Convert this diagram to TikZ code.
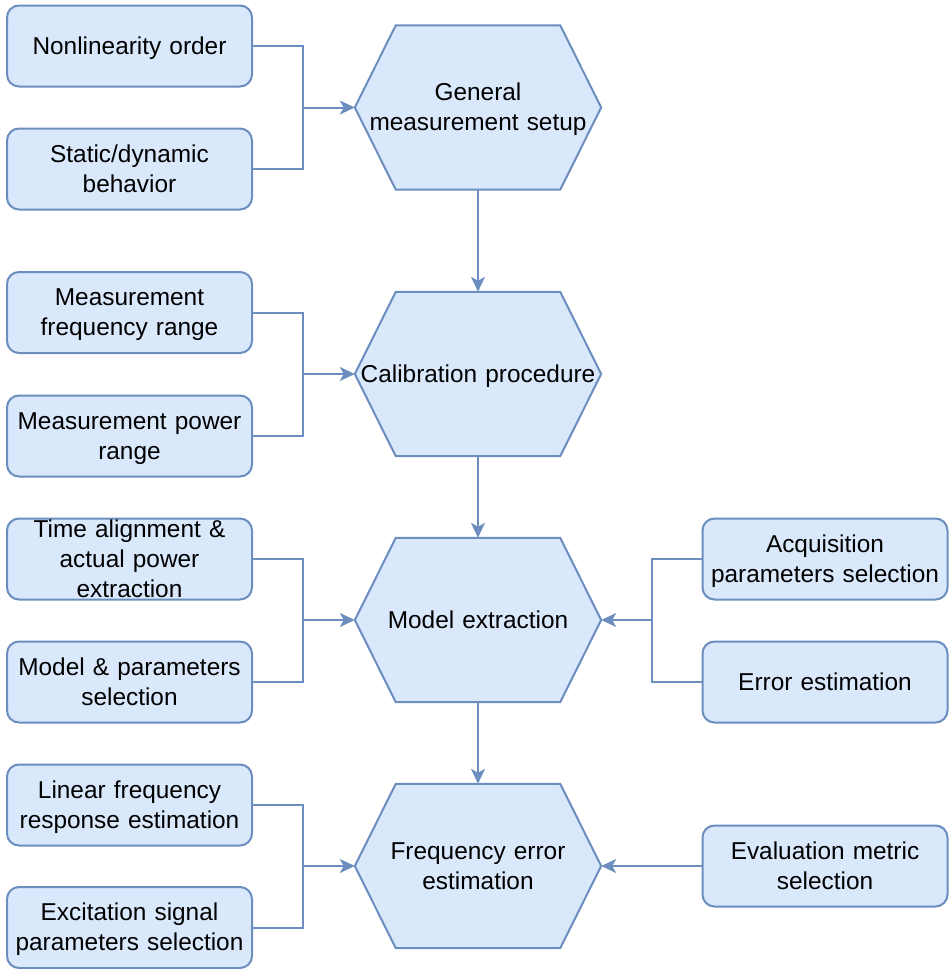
\documentclass[tikz,border=0pt]{standalone}
\usepackage{fontspec}
\setmainfont{Liberation Sans}
\usetikzlibrary{arrows.meta,backgrounds}
\definecolor{boxfill}{HTML}{DAE8FC}
\definecolor{boxline}{HTML}{6C8EBF}
% line-box struts so every label is centred on its full line height
\newcommand\lineboxtop{\rule{0pt}{0.9465em}}
\newcommand\lineboxbot{\rule[-0.2535em]{0pt}{0pt}}
\begin{document}
\begin{tikzpicture}[x=1pt,y=-1pt,
  every node/.style={font=\fontsize{24.4}{30}\selectfont, text=black},
  boxtext/.style={execute at begin node=\lineboxtop, execute at end node=\lineboxbot},
  factor/.style={boxtext, draw=boxline, fill=boxfill, line width=2pt, rounded corners=12pt,
    minimum width=245pt, minimum height=81pt, inner sep=0pt, text width=240pt, align=center},
  stage/.style={boxtext, minimum width=246pt, minimum height=164pt, inner sep=0pt,
    text width=240pt, align=center},
  hexshape/.style={draw=boxline, fill=boxfill, line width=2pt},
  link/.style={draw=boxline, line width=2pt},
  feed/.style={link, -{Stealth[length=15pt,width=14pt,inset=4pt]}},
]
\useasboundingbox (0,0) rectangle (948,969);

% main process stages
\node[stage] (h1) at (478,107.5) {General\\measurement setup};
\node[stage] (h2) at (478,374) {Calibration procedure};
\node[stage] (h3) at (478,620) {Model extraction};
\node[stage] (h4) at (478,866) {Frequency error\\estimation};

% hexagon outlines behind the stage labels
\begin{scope}[on background layer]
  \foreach \h in {h1,h2,h3,h4}
    \filldraw[hexshape] (\h.west) -- ([xshift=41pt]\h.north west)
      -- ([xshift=-41pt]\h.north east) -- (\h.east)
      -- ([xshift=-41pt]\h.south east) -- ([xshift=41pt]\h.south west) -- cycle;
\end{scope}

% inputs on the left
\node[factor] (n1) at (129.5,46) {Nonlinearity order};
\node[factor] (n2) at (129.5,169) {Static/dynamic\\behavior};
\node[factor] (n3) at (129.5,312.5) {Measurement\\frequency range};
\node[factor] (n4) at (129.5,436) {Measurement power\\range};
\node[factor, inner ysep=-6pt] (n5) at (129.5,559) {Time alignment \&\\actual power\\extraction};
\node[factor] (n6) at (129.5,682) {Model \& parameters\\selection};
\node[factor] (n7) at (129.5,805) {Linear frequency\\response estimation};
\node[factor] (n8) at (129.5,927.5) {Excitation signal\\parameters selection};

% inputs on the right
\node[factor] (r1) at (825,559) {Acquisition\\parameters selection};
\node[factor] (r2) at (825,682) {Error estimation};
\node[factor] (r3) at (825,866) {Evaluation metric\\selection};

% junction points
\coordinate (j1) at (303,107.5);
\coordinate (j2) at (303,374);
\coordinate (j3) at (303,620);
\coordinate (j4) at (303,866);
\coordinate (k3) at (652,620);

% left connectors
\draw[link] (n1.east) -| (j1);
\draw[link] (n2.east) -| (j1);
\draw[feed] (j1) -- (h1.west);
\draw[link] (n3.east) -| (j2);
\draw[link] (n4.east) -| (j2);
\draw[feed] (j2) -- (h2.west);
\draw[link] (n5.east) -| (j3);
\draw[link] (n6.east) -| (j3);
\draw[feed] (j3) -- (h3.west);
\draw[link] (n7.east) -| (j4);
\draw[link] (n8.east) -| (j4);
\draw[feed] (j4) -- (h4.west);

% right connectors
\draw[link] (r1.west) -| (k3);
\draw[link] (r2.west) -| (k3);
\draw[feed] (k3) -- (h3.east);
\draw[feed] (r3.west) -- (h4.east);

% flow between stages
\draw[feed] (h1.south) -- (h2.north);
\draw[feed] (h2.south) -- (h3.north);
\draw[feed] (h3.south) -- (h4.north);
\end{tikzpicture}
\end{document}
